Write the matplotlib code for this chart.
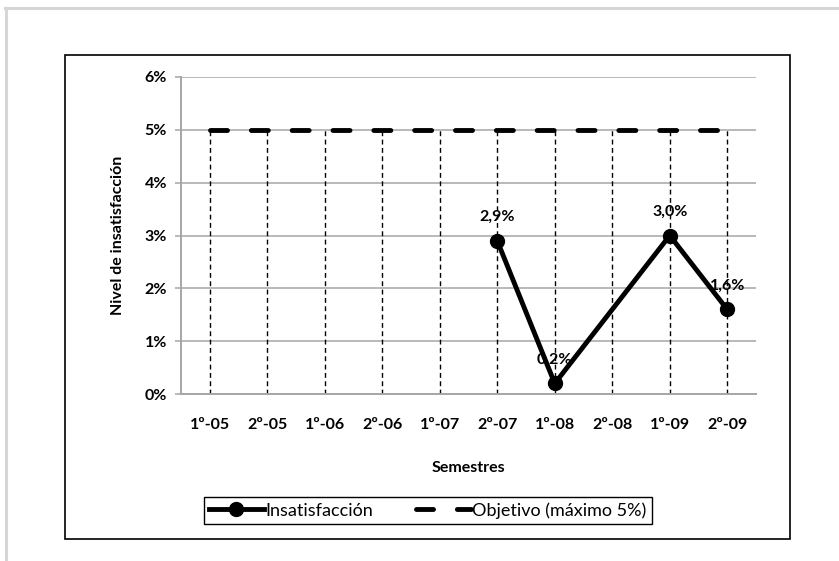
import matplotlib.pyplot as plt
from matplotlib.patches import Rectangle
from matplotlib.lines import Line2D

plt.rcParams['font.family'] = ['Lato', 'DejaVu Sans']

semestres = ['1º-05', '2º-05', '1º-06', '2º-06', '1º-07',
             '2º-07', '1º-08', '2º-08', '1º-09', '2º-09']
insatisfaccion = [None, None, None, None, None, 2.9, 0.2, None, 3.0, 1.6]  # % per semester
objetivo = [5, 5, 5, 5, 5, 5, 5, 5, 5, 5]  # max allowed, %

fs = 11.5
fig = plt.figure(figsize=(8.39, 5.61), dpi=100)
ax = fig.add_axes([181 / 839, 1 - 394 / 561, 575 / 839, 317 / 561])

x = list(range(len(semestres)))
grid_c = '#a6a6a6'

# drop lines from the objective down to the axis
ax.vlines(x, 0, objetivo, colors='black', linewidth=1, linestyles=(0, (3.5, 2.5)), zorder=2)

obj_line, = ax.plot(x, objetivo, color='black', linewidth=3.5,
                    linestyle=(0, (3.5, 4.9)), dash_capstyle='round', zorder=3,
                    label='Objetivo (máximo 5%)')

xs = [i for i, v in zip(x, insatisfaccion) if v is not None]
ys = [v for v in insatisfaccion if v is not None]
ins_line, = ax.plot(xs, ys, color='black', linewidth=3.5, marker='o', markersize=10,
                    zorder=4, label='Insatisfacción')

for xi, yi in zip(xs, ys):
    ax.annotate(f'{yi:.1f}%'.replace('.', ','), (xi, yi), xytext=(0, 17),
                textcoords='offset points', ha='center', va='center',
                fontsize=fs, fontweight='bold', zorder=5)

ax.set_xlim(-0.5, len(semestres) - 0.5)
ax.set_ylim(0, 6)
ax.set_xticks(x)
ax.set_xticklabels(semestres, fontsize=fs, fontweight='bold')
ax.set_yticks(range(0, 7))
ax.set_yticklabels([f'{v}%' for v in range(0, 7)], fontsize=fs, fontweight='bold')
ax.tick_params(axis='x', length=0, pad=17)
ax.tick_params(axis='y', length=4, color=grid_c, width=1.1, pad=6)

ax.grid(axis='y', color=grid_c, linewidth=1.1, zorder=1)
ax.set_axisbelow(True)
for side in ['top', 'right']:
    ax.spines[side].set_visible(False)
for side in ['left', 'bottom']:
    ax.spines[side].set_color(grid_c)
    ax.spines[side].set_linewidth(1.4)

ax.set_ylabel('Nivel de insatisfacción', fontsize=fs, fontweight='bold')
ax.yaxis.set_label_coords(-(181 - 125) / 575, 0.5)
ax.set_xlabel('Semestres', fontsize=fs, fontweight='bold')
ax.xaxis.set_label_coords(0.5, -(461 - 394) / 317)

leg = fig.legend(handles=[ins_line, obj_line], loc='center', ncol=2,
                 bbox_to_anchor=(428 / 839, 1 - 510.5 / 561), fontsize=13,
                 handlelength=3.0, columnspacing=2.4, handletextpad=0.1,
                 fancybox=False, framealpha=1, edgecolor='black', borderpad=0.3)
leg.get_frame().set_linewidth(1)

# chart border and page edge
fig.add_artist(Rectangle((65 / 839, 1 - 539 / 561), 725 / 839, 484 / 561,
                         transform=fig.transFigure, fill=False, edgecolor='black', linewidth=1.2))
fig.add_artist(Line2D([5 / 839, 1], [1 - 7.5 / 561] * 2, transform=fig.transFigure,
                      color='#d6d6d6', linewidth=2.2))
fig.add_artist(Line2D([6 / 839] * 2, [0, 1 - 7.5 / 561], transform=fig.transFigure,
                      color='#d6d6d6', linewidth=2.2))

fig.savefig('out.png', dpi=100)
